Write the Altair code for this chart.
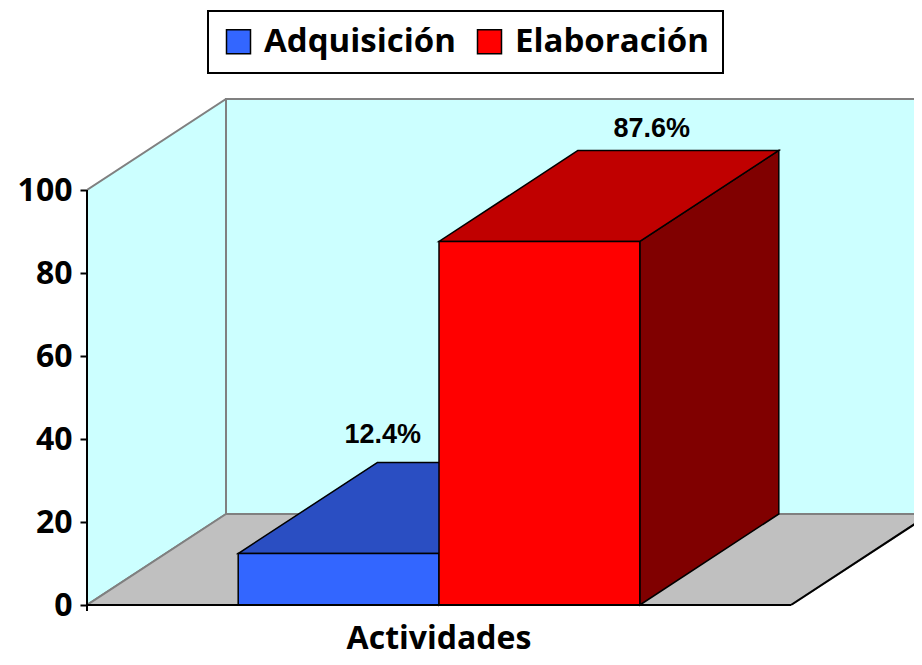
import altair as alt
import pandas as pd

# ---------------- data ----------------
categories = ["Adquisición", "Elaboración"]
values = [12.4, 87.6]
labels = ["12.4%", "87.6%"]
front_colors = ["#3366FF", "#FF0000"]
top_colors = ["#2A4EC2", "#C00000"]
side_colors = ["#1A3380", "#800000"]
y_ticks = [0, 20, 40, 60, 80, 100]
x_title = "Actividades"

# ---------------- layout (3D projection) ----------------
PX_X = 200.8          # pixels per bar width
PX_Y = 4.15           # pixels per value unit
PLOT_W = 827
PLOT_H = 507
XMAX = PLOT_W / PX_X
YMAX = PLOT_H / PX_Y
GAP = 0.753           # gap before first bar, in bar widths
BAR_W = 1.0
DX = 139 / PX_X       # depth offset (x units)
DY = 91 / PX_Y        # depth offset (value units)
YTOP = 100
FLOOR_W = 2 * GAP + len(values) * BAR_W
label_shift_x = [0.22, 0.56]
label_lift = [20 / PX_Y, 13.5 / PX_Y]

xs = alt.Scale(domain=[0, XMAX], nice=False, zero=False)
ys = alt.Scale(domain=[0, YMAX], nice=False, zero=False)
Y_AXIS = alt.Axis(values=y_ticks, title=None)


def X(field, **kw):
    return alt.X(field, scale=xs, axis=None, **kw)


def Y(field, **kw):
    return alt.Y(field, scale=ys, axis=Y_AXIS, **kw)


# ---------------- geometry tables ----------------
walls_v = pd.DataFrame([
    {"face": "leftwall", "x": 0.0, "y": 0.0, "y2": YTOP},
    {"face": "leftwall", "x": DX, "y": DY, "y2": YTOP + DY},
])
back_wall = pd.DataFrame([{"x": DX, "x2": FLOOR_W + DX, "y": DY, "y2": YTOP + DY}])
floor_h = pd.DataFrame([
    {"face": "floor", "y": 0.0, "x": 0.0, "x2": FLOOR_W},
    {"face": "floor", "y": DY, "x": DX, "x2": FLOOR_W + DX},
])

sides, tops, fronts, texts = [], [], [], []
for i, (c, v) in enumerate(zip(categories, values)):
    x0 = GAP + i * BAR_W
    x1 = x0 + BAR_W
    sides += [
        {"face": f"s{i}", "x": x1, "y": 0.0, "y2": v, "fill": side_colors[i]},
        {"face": f"s{i}", "x": x1 + DX, "y": DY, "y2": v + DY, "fill": side_colors[i]},
    ]
    tops += [
        {"face": f"t{i}", "y": v, "x": x0, "x2": x1, "fill": top_colors[i]},
        {"face": f"t{i}", "y": v + DY, "x": x0 + DX, "x2": x1 + DX, "fill": top_colors[i]},
    ]
    fronts.append({"serie": c, "x": x0, "x2": x1, "y": 0.0, "y2": v})
    texts.append({"t": labels[i], "x": (x0 + x1) / 2 + label_shift_x[i],
                  "y": v + DY + label_lift[i]})
sides = pd.DataFrame(sides)
tops = pd.DataFrame(tops)
fronts = pd.DataFrame(fronts)
texts = pd.DataFrame(texts)

# ---------------- layers ----------------
left_wall = alt.Chart(walls_v).mark_area(fill="#CCFFFF", stroke="#808080", strokeWidth=2, clip=True).encode(
    x=X("x:Q"),
    y=Y("y:Q", stack=None),
    y2="y2:Q",
    detail="face:N",
)

back = alt.Chart(back_wall).mark_rect(fill="#CCFFFF", stroke="#808080", strokeWidth=2, clip=True).encode(
    x=X("x:Q"), x2="x2:Q",
    y=Y("y:Q"), y2="y2:Q",
)

floor = alt.Chart(floor_h).mark_area(orient="horizontal", fill="#C0C0C0",
                                      stroke="#808080", strokeWidth=2, clip=True).encode(
    y=Y("y:Q"),
    x=X("x:Q", stack=None),
    x2="x2:Q",
    detail="face:N",
)

edges = pd.DataFrame([
    {"x": 0.0, "x2": FLOOR_W, "y": 0.0, "y2": 0.0},
    {"x": FLOOR_W, "x2": FLOOR_W + DX, "y": 0.0, "y2": DY},
    {"x": 0.0, "x2": 0.0, "y": -6 / PX_Y, "y2": YTOP},
])
edge_rules = alt.Chart(edges).mark_rule(color="black", strokeWidth=2).encode(
    x=X("x:Q"), x2="x2:Q",
    y=Y("y:Q"), y2="y2:Q",
)

side_l = alt.Chart(sides).mark_area(stroke="black", strokeWidth=1.5).encode(
    x=X("x:Q"),
    y=Y("y:Q", stack=None),
    y2="y2:Q",
    fill=alt.Fill("fill:N", scale=None),
    detail="face:N",
)

top_l = alt.Chart(tops).mark_area(orient="horizontal", stroke="black", strokeWidth=1.5).encode(
    y=Y("y:Q"),
    x=X("x:Q", stack=None),
    x2="x2:Q",
    fill=alt.Fill("fill:N", scale=None),
    detail="face:N",
)

front_l = alt.Chart(fronts).mark_rect(stroke="black", strokeWidth=1.5, opacity=1).encode(
    x=X("x:Q"), x2="x2:Q",
    y=Y("y:Q"), y2="y2:Q",
    color=alt.Color("serie:N",
                    scale=alt.Scale(domain=categories, range=front_colors),
                    legend=alt.Legend(
                        orient="none", legendX=121, legendY=-87,
                        direction="horizontal", title=None,
                        symbolType="square", symbolSize=576,
                        symbolStrokeColor="black", symbolStrokeWidth=1.5,
                        symbolOpacity=1,
                        labelFont="Open Sans", labelFontSize=33, labelFontWeight="bold",
                        labelColor="black", labelLimit=500, labelOffset=9,
                        columnPadding=17, padding=14,
                        fillColor="white", strokeColor="black",
                    )),
)

text_l = alt.Chart(texts).mark_text(font="Liberation Sans", fontSize=27, fontWeight="bold",
                                    baseline="alphabetic", align="center", color="black").encode(
    x=X("x:Q"),
    y=Y("y:Q"),
    text="t:N",
)

title_l = alt.Chart(pd.DataFrame([{"t": x_title, "x": FLOOR_W / 2, "y": 0.0}])).mark_text(
    font="Open Sans", fontSize=32, fontWeight="bold", baseline="alphabetic", align="center",
    color="black", dy=44).encode(
    x=X("x:Q"),
    y=Y("y:Q"),
    text="t:N",
)

chart = alt.layer(
    left_wall, back, floor, side_l, top_l, front_l, edge_rules, text_l, title_l
).properties(
    width=PLOT_W, height=PLOT_H,
    autosize=alt.AutoSizeParams(type="none"),
    padding={"left": 79, "top": 90, "right": 0, "bottom": 47},
    background="white",
).configure_view(stroke=None).configure_axis(
    grid=False, domain=False,
    labelFont="Open Sans", labelFontSize=32, labelFontWeight="bold", labelColor="black",
    tickSize=7, tickWidth=2, tickColor="black", labelPadding=8,
).configure_legend(strokeWidth=2)

chart.save("out.html", embed_options={"renderer": "svg", "actions": False})
